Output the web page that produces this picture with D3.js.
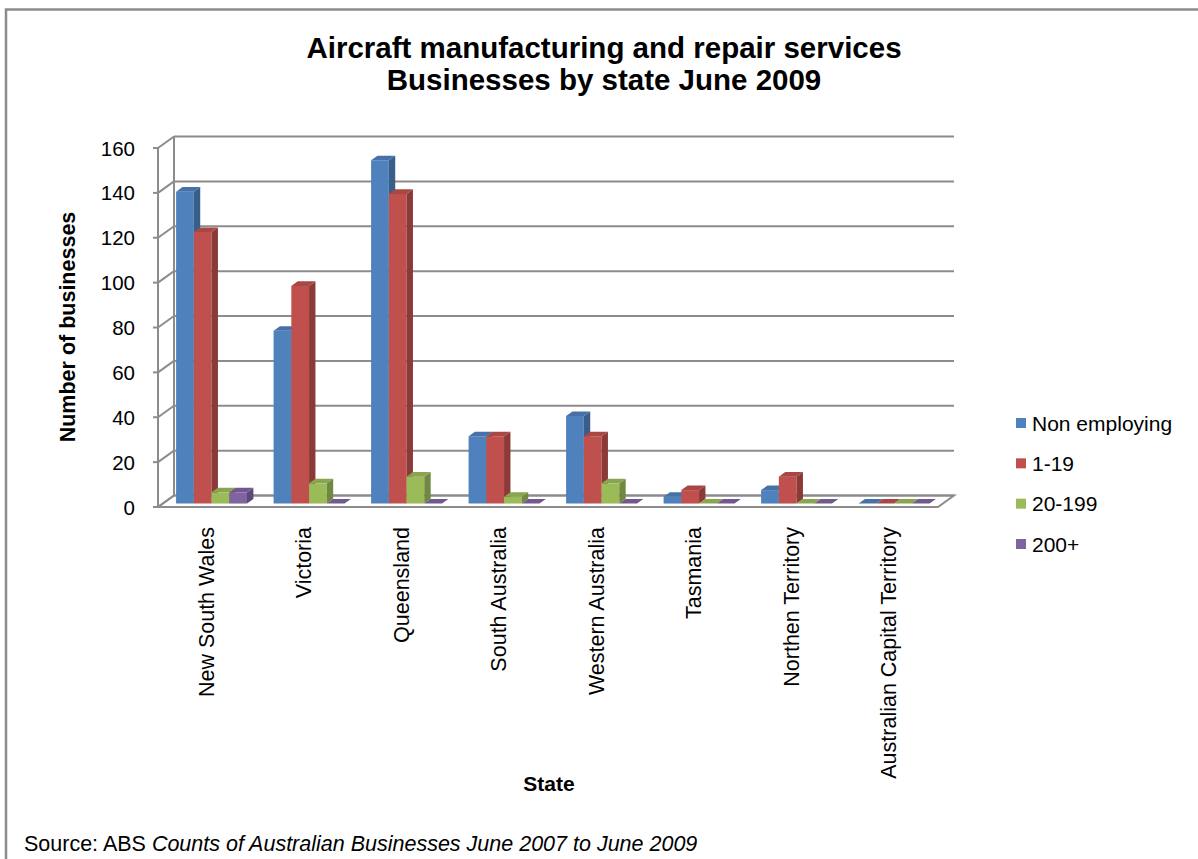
<!DOCTYPE html>
<html>
<head>
<meta charset="utf-8">
<script src="https://cdn.jsdelivr.net/npm/d3@7"></script>
<style>
  html, body { margin: 0; padding: 0; background: #fff; }
  svg text { font-family: "Liberation Sans", Arial, sans-serif; fill: #000; }
</style>
</head>
<body>
<svg id="chart" width="1198" height="859"></svg>
<script>
// ---- data ----
const categories = ["New South Wales", "Victoria", "Queensland", "South Australia",
  "Western Australia", "Tasmania", "Northen Territory", "Australian Capital Territory"];
const seriesNames = ["Non employing", "1-19", "20-199", "200+"];
const nonEmploying = [139, 77, 153, 30, 39, 3, 6, 0];
const emp1to19    = [121, 97, 138, 30, 30, 6, 12, 0];
const emp20to199  = [5, 9, 12, 3, 9, 0, 0, 0];
const emp200plus  = [5, 0, 0, 0, 0, 0, 0, 0];
const yTicks = [0, 20, 40, 60, 80, 100, 120, 140, 160];
const seriesColors = ["#4F81BD", "#C0504D", "#9BBB59", "#8064A2"];

const seriesValues = [nonEmploying, emp1to19, emp20to199, emp200plus];

const svg = d3.select("#chart");

// outer border (left + top)
svg.append("path").attr("d", "M6,859 V9.5 H1198")
  .attr("fill", "none").attr("stroke", "#8c8c8c").attr("stroke-width", 2.5);

// ---- scales (front plane) + depth vector ----
const x = d3.scaleBand().domain(categories).range([158, 938])
  .paddingInner(1.5 / 5.5).paddingOuter(0.75 / 5.5);
const xFront = d3.scaleBand().domain(categories).range([158, 938]);
const xs = d3.scaleBand().domain(seriesNames).range([0, x.bandwidth()]);
const y = d3.scaleLinear().domain([0, 160]).range([507, 148]);
const DX = 16, DY = -11.5;
const t0 = 0.3, t1 = 0.7;
const P = (px, v, t) => [px + t * DX, y(v) + t * DY];
const poly = pts => "M" + pts.map(p => p.join(",")).join("L") + "Z";

const grid = svg.append("g");
// floor
grid.append("path")
  .attr("d", poly([P(158, 0, 0), P(938, 0, 0), P(938, 0, 1), P(158, 0, 1)]))
  .attr("fill", "#fff").attr("stroke", "#8c8c8c").attr("stroke-width", 2);
// back wall gridlines + left wall slants + ticks
yTicks.forEach(v => {
  const b0 = P(158, v, 1), b1 = P(938, v, 1), f = P(158, v, 0);
  grid.append("line").attr("x1", b0[0]).attr("y1", b0[1]).attr("x2", b1[0]).attr("y2", b1[1])
    .attr("stroke", "#8c8c8c").attr("stroke-width", 2);
  grid.append("line").attr("x1", f[0]).attr("y1", f[1]).attr("x2", b0[0]).attr("y2", b0[1])
    .attr("stroke", "#8c8c8c").attr("stroke-width", 2);
  grid.append("line").attr("x1", f[0] - 5).attr("y1", f[1]).attr("x2", f[0]).attr("y2", f[1])
    .attr("stroke", "#8c8c8c").attr("stroke-width", 2);
});
// wall verticals
[0, 1].forEach(t => {
  const a = P(158, 0, t), b = P(158, 160, t);
  grid.append("line").attr("x1", a[0]).attr("y1", a[1]).attr("x2", b[0]).attr("y2", b[1])
    .attr("stroke", "#8c8c8c").attr("stroke-width", 2);
});

// y tick labels
svg.append("g").selectAll("text").data(yTicks).join("text")
  .attr("x", 135).attr("y", d => y(d)).attr("text-anchor", "end")
  .attr("dominant-baseline", "central").attr("font-size", 20.5).text(d => d);

// ---- bars ----
const bars = svg.append("g");
categories.forEach((c, i) => {
  seriesNames.forEach((s, j) => {
    const v = seriesValues[j][i];
    const x0 = x(c) + xs(s), x1 = x0 + xs.bandwidth();
    const col = d3.color(seriesColors[j]);
    if (v > 0) {
      bars.append("path").attr("d", poly([P(x0, 0, t0), P(x1, 0, t0), P(x1, v, t0), P(x0, v, t0)]))
        .attr("fill", col.formatHex());
      bars.append("path").attr("d", poly([P(x1, 0, t0), P(x1, 0, t1), P(x1, v, t1), P(x1, v, t0)]))
        .attr("fill", col.darker(0.9).formatHex());
    }
    bars.append("path").attr("d", poly([P(x0, v, t0), P(x1, v, t0), P(x1, v, t1), P(x0, v, t1)]))
      .attr("fill", col.darker(0.35).formatHex());
  });
});

// category labels
svg.append("g").selectAll("text").data(categories).join("text")
  .attr("transform", d => `translate(${xFront(d) + xFront.bandwidth() / 2},527) rotate(-90)`)
  .attr("text-anchor", "end").attr("dominant-baseline", "central")
  .attr("font-size", 21.5).text(d => d);

// titles
const title = svg.append("text").attr("text-anchor", "middle")
  .attr("font-size", 29.5).attr("font-weight", "bold");
title.append("tspan").attr("x", 604).attr("y", 58).text("Aircraft manufacturing and repair services");
title.append("tspan").attr("x", 604).attr("y", 90).text("Businesses by state June 2009");

svg.append("text").attr("transform", "translate(68,327) rotate(-90)")
  .attr("text-anchor", "middle").attr("dominant-baseline", "central")
  .attr("font-size", 21.5).attr("font-weight", "bold").text("Number of businesses");

svg.append("text").attr("x", 549).attr("y", 791).attr("text-anchor", "middle")
  .attr("font-size", 21).attr("font-weight", "bold").text("State");

// legend
const legendY = d3.scalePoint().domain(seriesNames).range([423, 544]);
const lg = svg.append("g");
seriesNames.forEach((s, j) => {
  lg.append("rect").attr("x", 1016).attr("y", legendY(s) - 5).attr("width", 10).attr("height", 10)
    .attr("fill", seriesColors[j]);
  lg.append("text").attr("x", 1032).attr("y", legendY(s)).attr("dominant-baseline", "central")
    .attr("font-size", 21).text(s);
});

// source
const src = svg.append("text").attr("x", 24).attr("y", 851).attr("font-size", 21.5);
src.append("tspan").text("Source: ABS ");
src.append("tspan").attr("font-style", "italic").text("Counts of Australian Businesses June 2007 to June 2009");
</script>
</body>
</html>
